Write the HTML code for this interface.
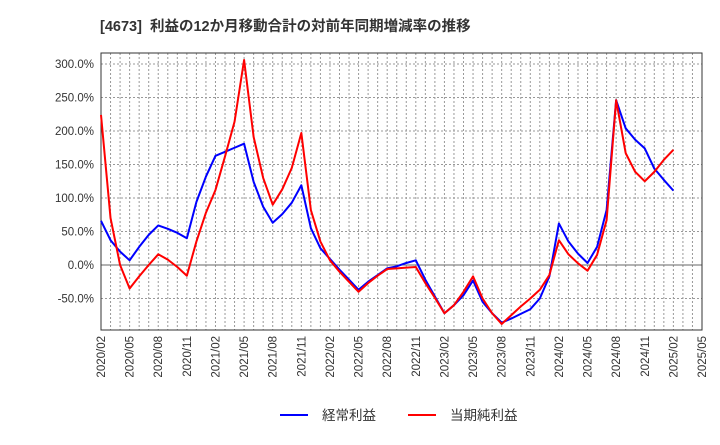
<!DOCTYPE html>
<html><head><meta charset="utf-8"><style>
body{margin:0;background:#fff;font-family:"Liberation Sans","Noto Sans CJK JP",sans-serif;}
</style></head><body>
<svg id="chart" width="720" height="440" xmlns="http://www.w3.org/2000/svg" font-family="Liberation Sans, Noto Sans CJK JP, sans-serif">
<text x="100" y="31" font-size="14.5" font-weight="bold" fill="#333">[4673]&#160;&#160;利益の12か月移動合計の対前年同期増減率の推移</text>
<g id="grid"></g>
<g id="axes"></g>
<g id="series"></g>
<g>
<line x1="280" y1="415" x2="308" y2="415" stroke="#0000ff" stroke-width="2"/>
<text x="322" y="420" font-size="13.5" fill="#333">経常利益</text>
<line x1="408" y1="415" x2="436" y2="415" stroke="#ff0000" stroke-width="2"/>
<text x="450" y="420" font-size="13.5" fill="#333">当期純利益</text>
</g>
</svg>
<script>
const startYear = 2020, startMonth = 2, monthCount = 64;
const yTicks = [300, 250, 200, 150, 100, 50, 0, -50];
const keijo = [66,37,20,7,27,45,59,54,48,40,94,132,163,169,175,181,124,87,63,76,93,119,55,25,9,-7,-22,-37,-25,-15,-5,-2,3,7,-22,-47,-72,-60,-45,-23,-55,-72,-86,-80,-73,-66,-50,-17,62,35,17,3,27,82,246,204,187,174,144,127,111];
const junri = [224,70,0,-35,-17,0,16,8,-3,-16,35,78,112,162,214,306,191,130,90,113,145,197,82,35,7,-10,-25,-40,-27,-16,-6,-5,-4,-3,-27,-49,-72,-60,-40,-17,-50,-72,-88,-75,-62,-50,-37,-15,37,16,2.5,-8.5,15,67,246,167,139,125,139,157,172];
const NS="http://www.w3.org/2000/svg";
const L=101,R=702,T=53,B=330;
const xS=m=>L+(R-L)*m/(monthCount-1);
const yS=v=>265-v*0.67;
function mk(tag,attrs,parent){const e=document.createElementNS(NS,tag);for(const k in attrs)e.setAttribute(k,attrs[k]);parent.appendChild(e);return e;}
const grid=document.getElementById('grid'),axes=document.getElementById('axes'),series=document.getElementById('series');
for(let m=1;m<monthCount-1;m++){const l=mk('line',{x1:xS(m),x2:xS(m),y1:T,y2:B,stroke:'#999','stroke-dasharray':'2,2','stroke-width':1},grid);

}
yTicks.forEach(v=>{const y=yS(v);const l=mk('line',{x1:L,x2:R,y1:y,y2:y,stroke:v===0?'#666':'#999','stroke-dasharray':v===0?'none':'2,2','stroke-width':1},grid);


const t=mk('text',{x:94,y:y+4,'text-anchor':'end','font-size':11.5,fill:'#333'},axes);t.textContent=v.toFixed(1)+'%';

});
const fr=mk('rect',{x:L,y:T,width:R-L,height:B-T,fill:'none',stroke:'#333','stroke-width':1},axes);


for(let m=0;m<monthCount;m+=3){const tm=startMonth-1+m;const lab=(startYear+Math.floor(tm/12))+'/'+String(tm%12+1).padStart(2,'0');
const x=xS(m);const t=mk('text',{x:x+4,y:336,'text-anchor':'end','font-size':11.5,fill:'#333',transform:`rotate(-90 ${x+4} 336)`},axes);t.textContent=lab;

}
function line(data,color,name){const p=mk('polyline',{points:data.map((v,i)=>xS(i)+','+yS(v)).join(' '),fill:'none',stroke:color,'stroke-width':2,'stroke-linejoin':'round'},series);

}
line(keijo,'#0000ff','keijo-line');
line(junri,'#ff0000','junri-line');
</script>
</body></html>
